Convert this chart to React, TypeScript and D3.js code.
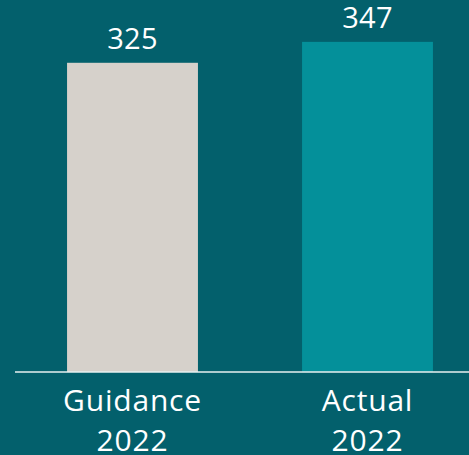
import React from "react";
import * as d3 from "d3";

const categories = ["Guidance 2022", "Actual 2022"];
const categoryLines = [["Guidance", "2022"], ["Actual", "2022"]];
const values = [325, 347];
const barColors = ["#D6D1CB", "#04909A"];

const W = 469;
const H = 455;
const BG = "#03606C";
const FONT = "'Open Sans', 'Noto Sans', sans-serif";

export default function App() {
  const x = d3.scaleBand<string>().domain(categories).range([15, 485]).paddingInner(0.443).paddingOuter(0.2215);
  const y = d3.scaleLinear().domain([0, 391]).range([372, 0]);
  return (
    <svg width={W} height={H} style={{ position: "absolute", left: 0, top: 0, display: "block" }}>
      <rect x={0} y={0} width={W} height={H} fill={BG} />
      {categories.map((c, i) => (
        <g key={c}>
          <rect x={x(c)} y={y(values[i])} width={x.bandwidth()} height={y(0) - y(values[i])} fill={barColors[i]} />
          <text x={(x(c) as number) + x.bandwidth() / 2} y={y(values[i]) - 13.5} textAnchor="middle" fill="#fff" fontFamily={FONT} fontSize={29} letterSpacing={0.3}>
            {values[i]}
          </text>
          {categoryLines[i].map((t, j) => (
            <text key={j} x={(x(c) as number) + x.bandwidth() / 2} y={410.5 + j * 40} textAnchor="middle" fill="#fff" fontFamily={FONT} fontSize={30} letterSpacing={0.8}>
              {t}
            </text>
          ))}
        </g>
      ))}
      <line x1={15} x2={W} y1={372} y2={372} stroke="#E8F0F0" strokeWidth={1.6} />
    </svg>
  );
}
